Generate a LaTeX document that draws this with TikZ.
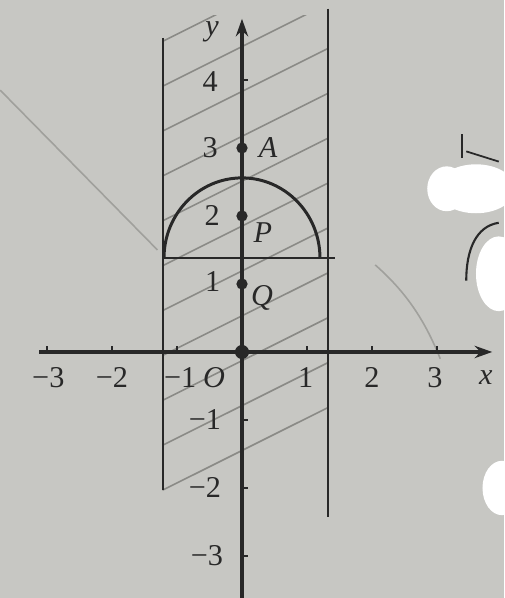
\documentclass[tikz,border=0pt]{standalone}
\usepackage{fontspec}
\setmainfont{Liberation Serif}
\usetikzlibrary{arrows.meta}
\definecolor{bg}{RGB}{199,199,195}
\definecolor{ink}{RGB}{40,40,40}
\definecolor{hatchc}{RGB}{138,138,134}
\definecolor{faint}{RGB}{160,160,156}
\begin{document}
\begin{tikzpicture}[x=0.65cm,y=0.68cm,
  axis/.style={ink,line width=0.9pt},
  bound/.style={ink,line width=0.6pt},
  arcline/.style={ink,line width=0.85pt},
  hatchline/.style={hatchc,line width=0.45pt},
  lbl/.style={inner sep=0pt,font=\fontsize{8.6}{10}\selectfont,text=ink},
  ilbl/.style={lbl,font=\fontsize{8.6}{10}\selectfont\itshape},
  dot/.style={circle,fill=ink,inner sep=0pt,minimum size=3.2pt},
  blob/.style={fill=white,draw=none},
  faintline/.style={faint,line width=0.45pt}]
\useasboundingbox (-3.723,-3.618) rectangle (4.031,5.176);
\fill[bg] (-3.723,-3.618) rectangle (4.031,5.176);
% faint background marks
\draw[faintline] (-3.72,3.85) -- (-1.3,1.5);
\draw[faintline] (2.05,1.28) .. controls (2.5,0.9) and (2.8,0.5) .. (3.05,-0.1);
% redaction blobs at right edge
\fill[blob] (3.15,2.4) ellipse (0.3 and 0.33);
\fill[blob] (3.6,2.4) ellipse (0.6 and 0.36);
\fill[blob] (3.95,1.15) ellipse (0.35 and 0.55);
\fill[blob] (4.0,-2.0) ellipse (0.3 and 0.4);
\draw[ink,line width=0.6pt] (3.38,3.2) -- (3.38,2.85);
\draw[ink,line width=0.5pt] (3.45,2.95) -- (3.95,2.8);
\draw[ink,line width=0.6pt] (3.95,1.9) .. controls (3.6,1.85) and (3.45,1.5) .. (3.45,1.05);
% hatching in the strip
\begin{scope}
\clip (-1.22,-2.06) rectangle (1.32,4.95);
\foreach \c in {-1.45,-0.79,-0.13,0.53,1.19,1.85,2.51,3.17,3.83,4.49,5.15}{
  \draw[hatchline] (-1.3,\c-0.62) -- (1.4,\c+0.67);
}
\end{scope}
% boundary lines
\coordinate (l1) at (-1.22,4.62);
\coordinate (l2) at (-1.22,-2.03);
\coordinate (r1) at (1.32,5.05);
\coordinate (r2) at (1.32,-2.42);
\draw[bound] (l1) -- (l2);
\draw[bound] (r1) -- (r2);
\coordinate (h1) at (-1.22,1.38);
\coordinate (h2) at (1.43,1.38);
\draw[bound] (h1) -- (h2);
\coordinate (s1) at (-1.2,1.38);
\draw[arcline] (s1) arc[start angle=180,end angle=0,x radius=1.2,y radius=1.18];
% axes
\coordinate (xs) at (-3.12,0);
\coordinate (xe) at (3.85,0);
\coordinate (ys) at (0,-3.7);
\coordinate (ye) at (0,4.9);
\draw[axis,-{Stealth[length=5pt,width=3.5pt]}] (xs) -- (xe);
\draw[axis,-{Stealth[length=5pt,width=3.5pt]}] (ys) -- (ye);
\foreach \t in {-3,-2,-1,1,2,3}{\draw[ink,line width=0.5pt] (\t,0) -- (\t,0.09);}
\foreach \t in {-3,-2,-1,4}{\draw[ink,line width=0.5pt] (0,\t) -- (0.09,\t);}
% points
\node[dot] (A) at (0,3) {};
\node[dot] (P) at (0,2) {};
\node[dot] (Q) at (0,1) {};
\node[dot,minimum size=4pt] (O) at (0,0) {};
% labels
\node[ilbl] (ylab) at (-0.46,4.71) {y};
\node[ilbl] (xlab) at (3.75,-0.38) {x};
\node[ilbl] (Olab) at (-0.43,-0.38) {O};
\node[lbl] (xm3) at (-2.98,-0.38) {−3};
\node[lbl] (xm2) at (-2.0,-0.38) {−2};
\node[lbl] (xm1) at (-0.95,-0.38) {−1};
\node[lbl] (x1) at (0.98,-0.38) {1};
\node[lbl] (x2) at (2.0,-0.38) {2};
\node[lbl] (x3) at (2.97,-0.38) {3};
\node[lbl] (y4) at (-0.49,3.97) {4};
\node[lbl] (y3) at (-0.49,3.0) {3};
\node[lbl] (y2) at (-0.46,2.01) {2};
\node[lbl] (y1) at (-0.45,1.03) {1};
\node[lbl] (ym1) at (-0.57,-1.0) {−1};
\node[lbl] (ym2) at (-0.57,-2.0) {−2};
\node[lbl] (ym3) at (-0.54,-2.99) {−3};
\node[ilbl] (Alab) at (0.4,3.0) {A};
\node[ilbl] (Plab) at (0.32,1.76) {P};
\node[ilbl] (Qlab) at (0.31,0.79) {Q};
\end{tikzpicture}
\end{document}
